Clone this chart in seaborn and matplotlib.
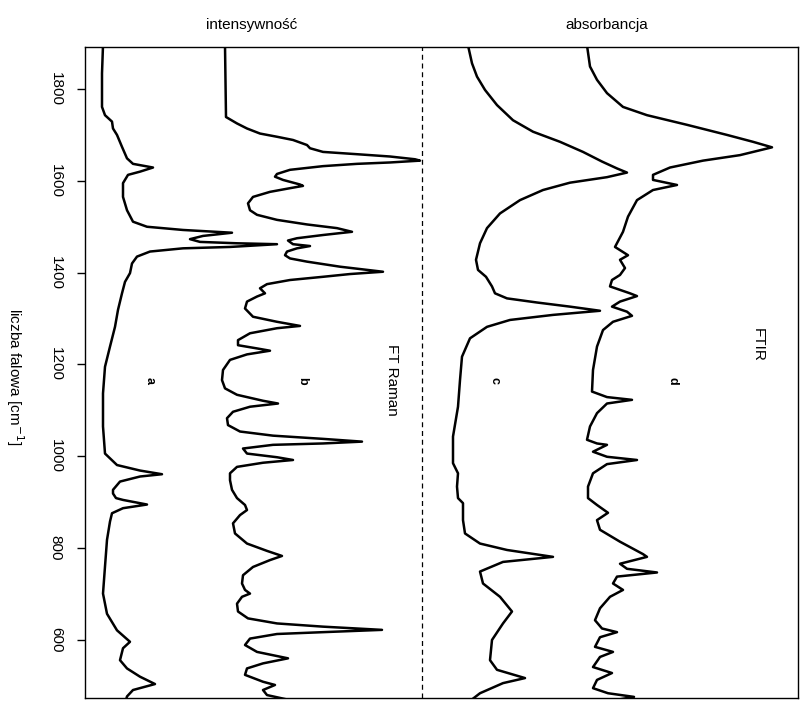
import numpy as np
import pandas as pd
import seaborn as sns
import matplotlib.pyplot as plt

# wavenumber [cm-1] / intensity pairs
# (a, b: FT Raman; c, d: FTIR), intensity above each curve's own baseline
A_WN = [1895, 1834, 1761, 1743, 1729, 1714, 1700, 1674, 1649, 1637, 1629, 1620, 1613, 1595, 1565,
        1536, 1511, 1500, 1493, 1487, 1480, 1473, 1467, 1464, 1462, 1456, 1453, 1446, 1435, 1420,
        1399, 1380, 1355, 1319, 1282, 1239, 1195, 1137, 1065, 1006, 981, 969, 961, 956, 945,
        927, 919, 909, 905, 895, 887, 876, 858, 818, 760, 701, 657, 621, 596, 582,
        556, 538, 520, 504, 491, 477, 462]
A_INT = [1, 0, 0, 3, 10, 11, 15, 20, 25, 31, 51, 38, 26, 21, 21,
         25, 31, 45, 81, 130, 101, 88, 98, 135, 175, 128, 81, 48, 35, 30,
         28, 23, 20, 16, 13, 8, 3, 1, 1, 3, 15, 38, 60, 38, 18,
         11, 11, 14, 21, 45, 21, 10, 8, 5, 3, 1, 5, 15, 28, 21,
         18, 25, 38, 53, 31, 25, 23]

B_WN = [1895, 1739, 1725, 1714, 1703, 1696, 1689, 1678, 1671, 1663, 1658, 1653, 1647, 1644, 1640,
        1637, 1632, 1624, 1615, 1609, 1602, 1592, 1589, 1584, 1576, 1565, 1551, 1536, 1526, 1515,
        1505, 1497, 1489, 1482, 1475, 1470, 1462, 1458, 1453, 1446, 1438, 1431, 1424, 1413, 1402,
        1397, 1391, 1384, 1375, 1366, 1355, 1348, 1337, 1322, 1304, 1293, 1284, 1279, 1268, 1253,
        1242, 1235, 1230, 1222, 1210, 1188, 1166, 1148, 1134, 1121, 1115, 1108, 1097, 1083, 1068,
        1054, 1045, 1038, 1032, 1028, 1025, 1017, 1006, 998, 992, 986, 977, 963, 948, 927,
        909, 894, 883, 872, 854, 832, 810, 794, 783, 774, 759, 741, 723, 709, 701,
        694, 679, 662, 647, 636, 629, 622, 617, 613, 603, 589, 574, 560, 549, 538,
        524, 509, 502, 491, 480, 469]
B_INT = [0, 1, 12, 22, 35, 52, 68, 82, 85, 98, 132, 165, 190, 195, 165,
         132, 98, 65, 52, 50, 58, 75, 78, 65, 45, 28, 23, 25, 32, 52,
         82, 112, 127, 98, 72, 63, 68, 85, 72, 62, 60, 65, 82, 115, 158,
         125, 98, 65, 42, 35, 40, 32, 22, 20, 28, 52, 75, 52, 25, 13,
         13, 32, 45, 22, 5, -2, -3, 0, 12, 38, 53, 25, 8, 2, 3,
         15, 48, 98, 137, 98, 48, 18, 22, 52, 68, 38, 12, 5, 5, 7,
         12, 20, 22, 15, 8, 10, 22, 42, 57, 45, 28, 18, 17, 20, 25,
         17, 12, 13, 23, 52, 98, 157, 98, 52, 25, 20, 32, 63, 38, 22,
         20, 38, 50, 38, 42, 65]

C_WN = [1895, 1856, 1827, 1798, 1765, 1732, 1707, 1685, 1663, 1642, 1627, 1618, 1608, 1596, 1580,
        1558, 1529, 1497, 1464, 1428, 1406, 1391, 1370, 1355, 1344, 1335, 1326, 1317, 1308, 1297,
        1282, 1257, 1217, 1166, 1108, 1043, 985, 963, 934, 909, 898, 861, 832, 810, 796,
        781, 770, 749, 723, 694, 662, 636, 600, 556, 535, 517, 506, 484, 462]
C_INT = [13, 17, 22, 30, 42, 58, 78, 105, 128, 147, 162, 172, 152, 115, 88,
         65, 45, 32, 25, 21, 23, 31, 37, 40, 52, 82, 115, 145, 98, 55,
         32, 15, 7, 5, 3, -2, -2, 3, 2, 3, 8, 8, 10, 25, 52,
         98, 48, 25, 28, 45, 57, 48, 37, 35, 42, 70, 48, 25, 12]

D_WN = [1895, 1849, 1820, 1791, 1761, 1743, 1722, 1700, 1685, 1673, 1656, 1644, 1629, 1613, 1602,
        1591, 1580, 1558, 1522, 1489, 1456, 1438, 1428, 1410, 1395, 1384, 1370, 1355, 1349, 1337,
        1326, 1315, 1306, 1293, 1275, 1239, 1188, 1141, 1129, 1123, 1115, 1094, 1065, 1036, 1028,
        1025, 1010, 999, 992, 983, 963, 934, 909, 894, 877, 861, 840, 814, 787, 781,
        766, 755, 747, 738, 723, 709, 694, 669, 643, 625, 617, 606, 585, 574, 563,
        541, 528, 513, 495, 484, 476, 466]
D_INT = [0, 3, 10, 20, 36, 60, 100, 140, 166, 185, 153, 116, 83, 66, 66,
         90, 66, 50, 41, 36, 28, 41, 33, 38, 33, 25, 23, 43, 50, 33,
         25, 40, 45, 26, 16, 10, 6, 5, 20, 45, 20, 10, 3, 0, 10,
         20, 6, 20, 50, 20, 6, 1, 1, 10, 21, 10, 13, 33, 56, 60,
         33, 40, 70, 30, 26, 36, 23, 13, 8, 15, 30, 13, 8, 26, 13,
         6, 25, 10, 6, 21, 47, 20]

LABELS = ["a", "b", "c", "d"]
TICKS = [600, 800, 1000, 1200, 1400, 1600, 1800]


def main():
    sns.set_style("white")
    plt.rcParams["font.family"] = ["Liberation Sans", "DejaVu Sans"]
    plt.rcParams["text.color"] = "black"
    plt.rcParams["ytick.color"] = "black"

    fig = plt.figure(figsize=(8.03, 7.06), dpi=100)
    ax = fig.add_axes([85 / 803, 8 / 706, 713 / 803, 651 / 706])

    spectra = [(A_WN, A_INT), (B_WN, B_INT), (C_WN, C_INT), (D_WN, D_INT)]
    offsets = [17, 140, 370, 502]  # horizontal stacking of the curves
    for (wn, vals), off in zip(spectra, offsets):
        df = pd.DataFrame({"wn": wn, "val": np.array(vals) + off})
        sns.lineplot(data=df, x="val", y="wn", sort=False, estimator=None,
                     color="black", lw=1.8, ax=ax)

    # separator between Raman and IR panels
    ax.axvline(337, color="black", lw=0.9, ls=(0, (4, 3)))

    # curve letters and panel names (rotated like the rest of the page)
    for x, lab in zip([65, 217, 410, 588], LABELS):
        ax.text(x, 1165, lab, rotation=-90, ha="center", va="center",
                fontsize=9, fontweight="bold")
    ax.text(307, 1166, "FT Raman", rotation=-90, ha="center", va="center", fontsize=11)
    ax.text(673, 1242, "FTIR", rotation=-90, ha="center", va="center", fontsize=11)

    ax.set_xlim(0, 713)
    ax.set_ylim(473.6, 1891.5)
    ax.set_xticks([])
    ax.set_yticks(TICKS)
    ax.set_yticklabels([str(t) for t in TICKS], rotation=-90, va="center")
    ax.tick_params(axis="y", left=True, direction="out", length=6, width=1,
                   color="black", labelcolor="black", labelsize=11, pad=10)
    ax.set_xlabel("")
    ax.set_ylabel("")
    for s in ax.spines.values():
        s.set_color("black")
        s.set_linewidth(1.0)

    fig.text(15 / 803, 1 - 377 / 706, "liczba falowa [cm$^{-1}$]", rotation=-90,
             ha="center", va="center", fontsize=11)
    fig.text(252 / 803, 1 - 25 / 706, "intensywność", ha="center", va="center", fontsize=11)
    fig.text(607 / 803, 1 - 25 / 706, "absorbancja", ha="center", va="center", fontsize=11)

    fig.savefig("out.png", dpi=100)


if __name__ == "__main__":
    main()
